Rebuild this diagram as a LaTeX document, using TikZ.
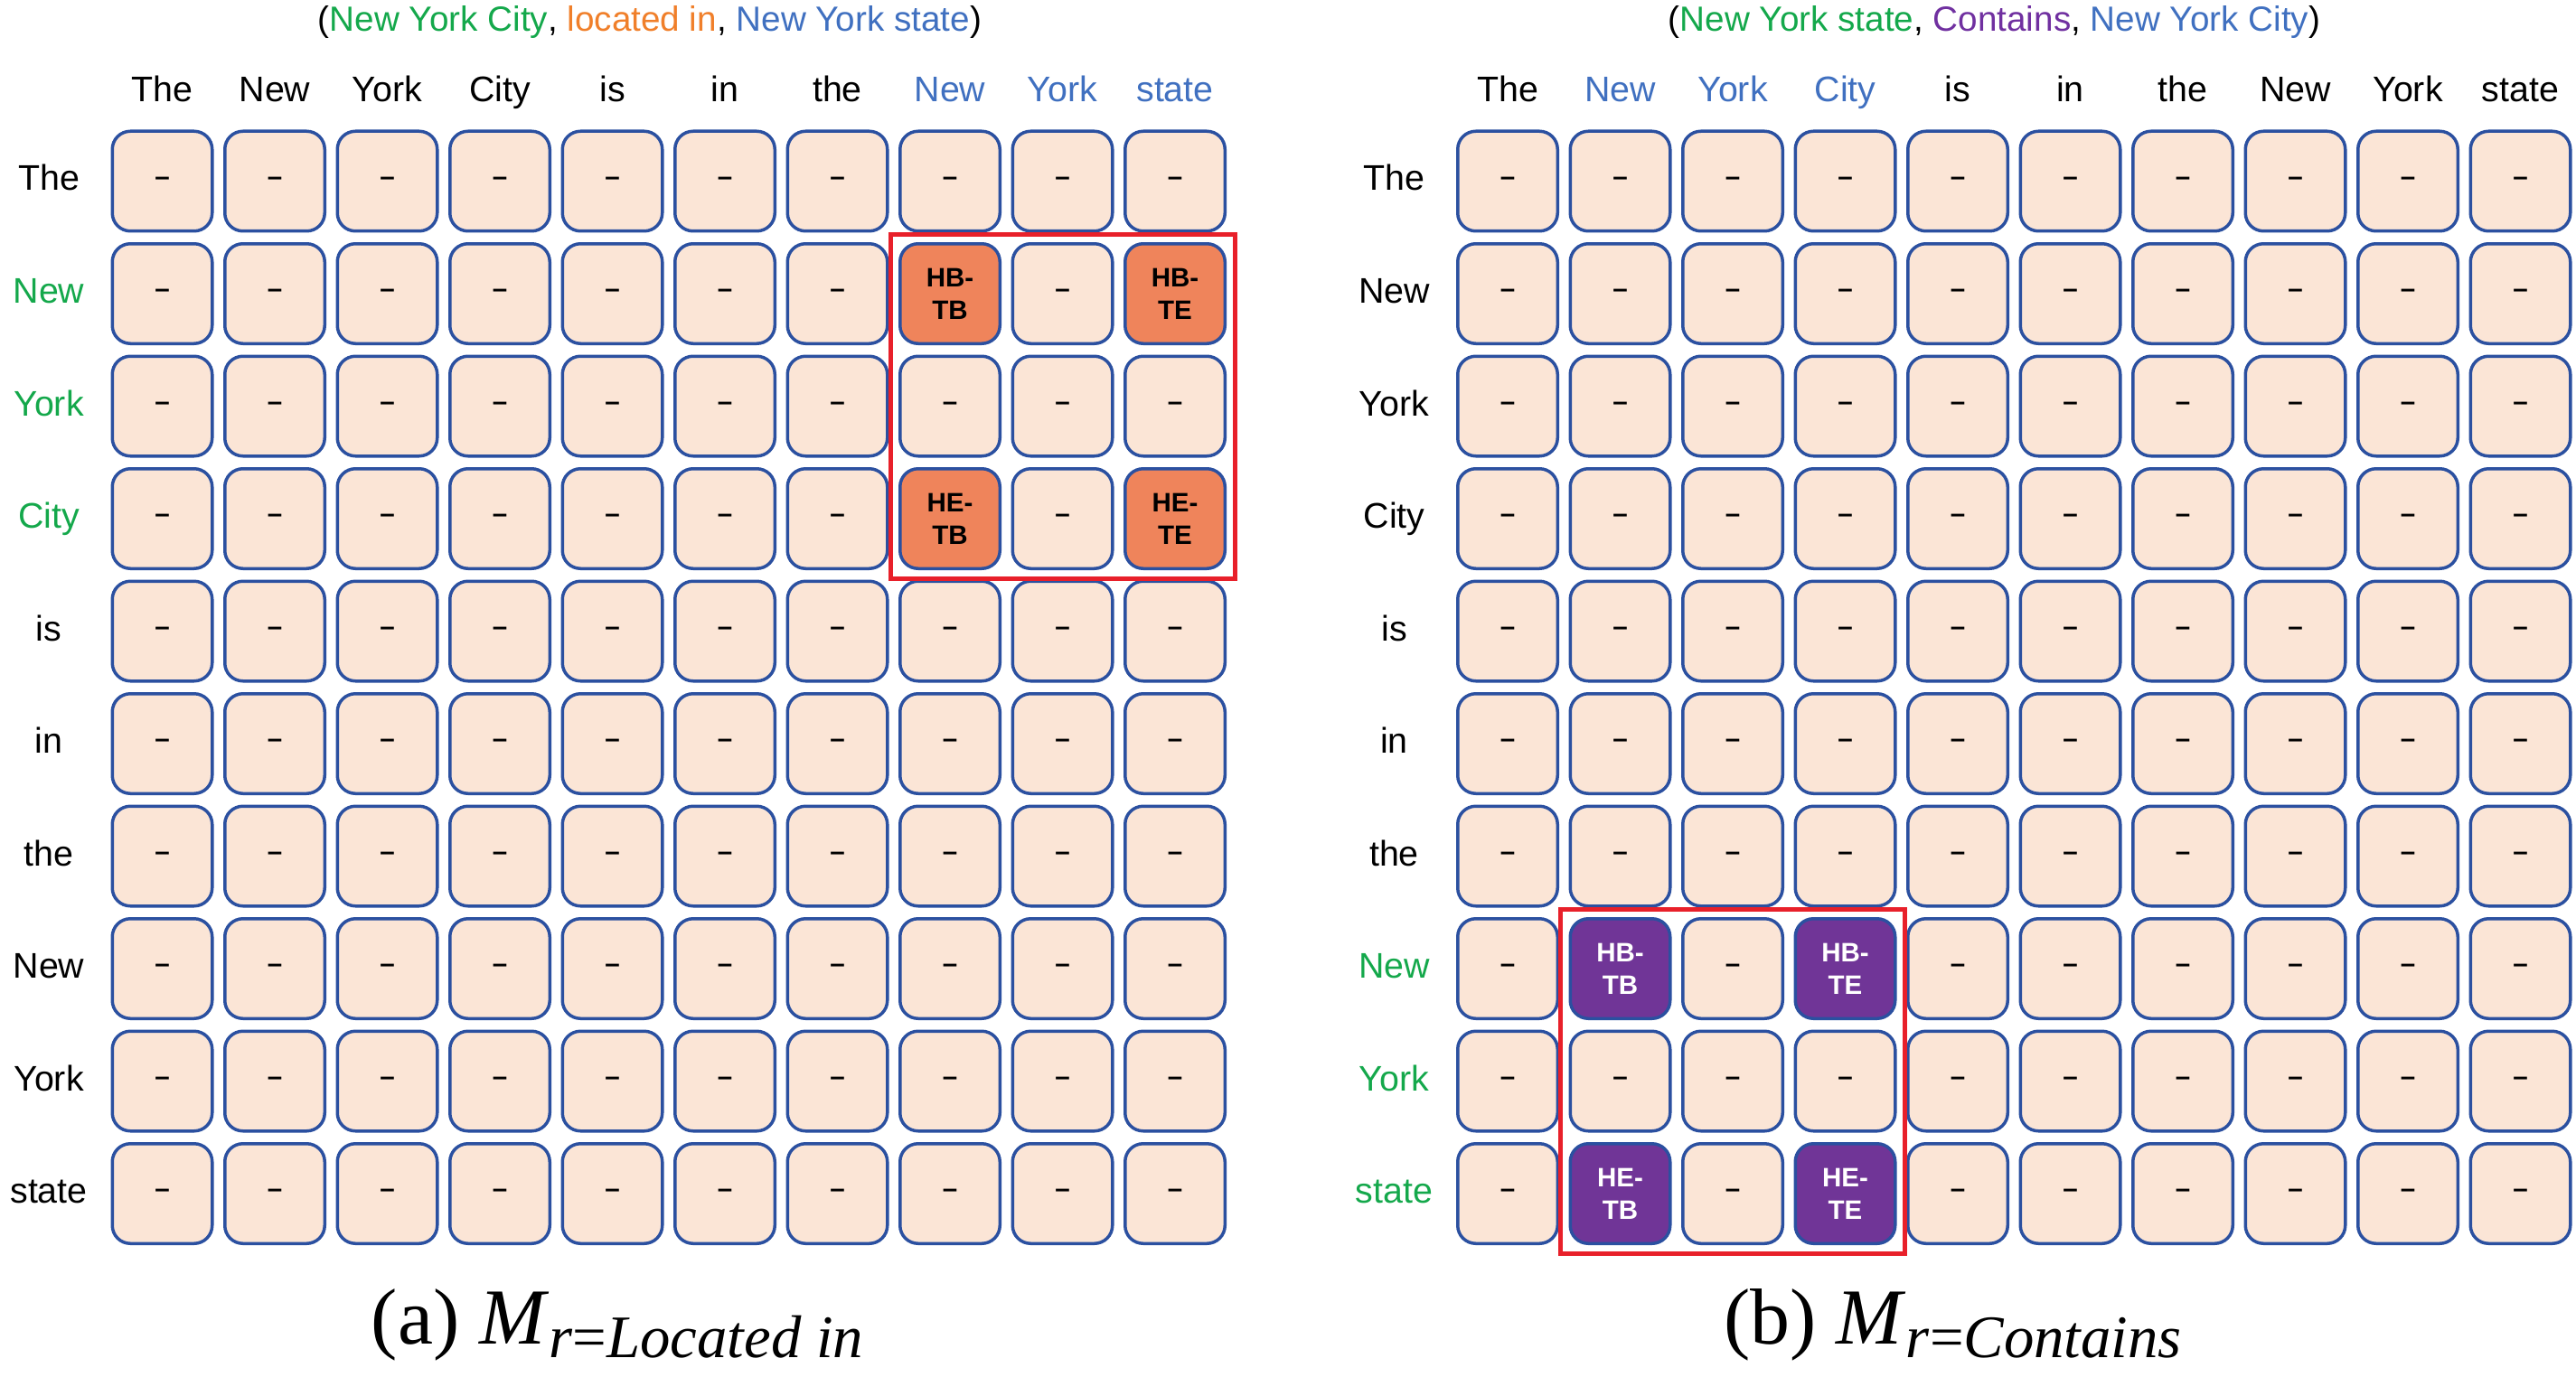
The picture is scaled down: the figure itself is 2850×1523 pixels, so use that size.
\documentclass[tikz,border=0pt]{standalone}
\usepackage{fontspec}
\setmainfont{Liberation Sans}
\newfontfamily\capfont{Liberation Serif}
\usetikzlibrary{fit}
\definecolor{peach}{HTML}{FBE5D6}
\definecolor{cellblue}{HTML}{2B50A0}
\definecolor{hotorange}{HTML}{EF845B}
\definecolor{hotpurple}{HTML}{703597}
\definecolor{entblue}{HTML}{4070C0}
\definecolor{entgreen}{HTML}{14A84B}
\definecolor{relorange}{HTML}{F07F2A}
\definecolor{relpurple}{HTML}{7030A0}
\definecolor{boxred}{HTML}{E8202A}
\begin{document}
\begin{tikzpicture}[x=0.1mm,y=-0.1mm]
\tikzstyle{every node}+=[inner sep=0pt]
\tikzstyle{cell}=[draw=cellblue,line width=0.35mm,fill=peach,rounded corners=2mm,minimum size=11.05mm,align=center,font=\fontsize{8.4}{10.2}\selectfont\bfseries]
\tikzstyle{hotcell}=[cell,fill=hotorange]
\tikzstyle{violetcell}=[cell,fill=hotpurple,text=white]
\tikzstyle{word}=[anchor=base,font=\fontsize{11.2}{13}\selectfont]
\tikzstyle{redbox}=[draw=boxred,line width=0.5mm,inner sep=0.9mm]
\tikzstyle{caption}=[anchor=base,font=\capfont\fontsize{25}{30}\selectfont]
\useasboundingbox (0,0) rectangle (2850,1523);

% (a) located in
\node[word,font=\fontsize{11}{13}\selectfont] (atitle) at (719,35) {(\textcolor{entgreen}{New York City}, \textcolor{relorange}{located in}, \textcolor{entblue}{New York state})};
\foreach \w/\col [count=\c] in {The/black,New/black,York/black,City/black,is/black,in/black,the/black,New/entblue,York/entblue,state/entblue}
  \node[word,text=\col] (acol\c) at ({179.5+124.5*(\c-1)},113) {\w};
\foreach \w/\col [count=\r] in {The/black,New/entgreen,York/entgreen,City/entgreen,is/black,in/black,the/black,New/black,York/black,state/black}
  \node[word,text=\col] (arow\r) at (54,{211+124.5*(\r-1)}) {\w};
\foreach \r in {1,...,10}
  \foreach \c in {1,...,10}{
    \pgfmathtruncatemacro\hot{((\r==2)||(\r==4))&&((\c==8)||(\c==10))}
    \ifnum\hot=0 \node[cell] (a\r-\c) at ({179.5+124.5*(\c-1)},{200.5+124.5*(\r-1)}) {\textendash};\fi
  }
\node[hotcell] (a2-8) at (1051,325) {HB-\\TB};
\node[hotcell] (a2-10) at (1300,325) {HB-\\TE};
\node[hotcell] (a4-8) at (1051,574) {HE-\\TB};
\node[hotcell] (a4-10) at (1300,574) {HE-\\TE};
\node[redbox,fit=(a2-8)(a4-10)] (abox) {};
\node[caption] (acap) at (683,1487) {(a) \textit{M}\raisebox{-4.3pt}{\fontsize{19}{22}\selectfont\textit{r}=\textit{Located in}}};

% (b) contains
\begin{scope}[xshift=148.85mm]
\node[word,font=\fontsize{11}{13}\selectfont] (btitle) at (718,35) {(\textcolor{entgreen}{New York state}, \textcolor{relpurple}{Contains}, \textcolor{entblue}{New York City})};
\foreach \w/\col [count=\c] in {The/black,New/entblue,York/entblue,City/entblue,is/black,in/black,the/black,New/black,York/black,state/black}
  \node[word,text=\col] (bcol\c) at ({179.5+124.5*(\c-1)},113) {\w};
\foreach \w/\col [count=\r] in {The/black,New/black,York/black,City/black,is/black,in/black,the/black,New/entgreen,York/entgreen,state/entgreen}
  \node[word,text=\col] (brow\r) at (54,{211+124.5*(\r-1)}) {\w};
\foreach \r in {1,...,10}
  \foreach \c in {1,...,10}{
    \pgfmathtruncatemacro\hot{((\r==8)||(\r==10))&&((\c==2)||(\c==4))}
    \ifnum\hot=0 \node[cell] (b\r-\c) at ({179.5+124.5*(\c-1)},{200.5+124.5*(\r-1)}) {\textendash};\fi
  }
\node[violetcell] (b8-2) at (304,1072) {HB-\\TB};
\node[violetcell] (b8-4) at (553,1072) {HB-\\TE};
\node[violetcell] (b10-2) at (304,1321) {HE-\\TB};
\node[violetcell] (b10-4) at (553,1321) {HE-\\TE};
\node[redbox,fit=(b8-2)(b10-4)] (bbox) {};
\node[caption] (bcap) at (672,1487) {(b) \textit{M}\raisebox{-4.3pt}{\fontsize{19}{22}\selectfont\textit{r}=\textit{Contains}}};
\end{scope}
\end{tikzpicture}
\end{document}
